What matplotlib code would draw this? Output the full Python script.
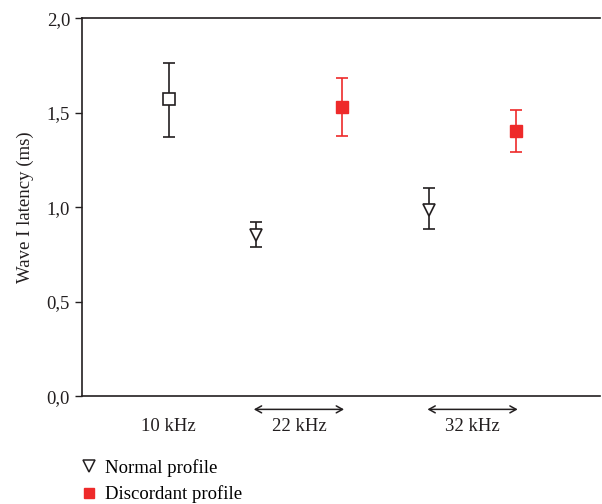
import matplotlib
matplotlib.use('Agg')
import matplotlib.pyplot as plt
from matplotlib.lines import Line2D

plt.rcParams['font.family'] = ['Liberation Serif', 'DejaVu Serif']

# normal profile (10, 22, 32 kHz)
normal_x = [1, 2, 4]
normal_mean = [1.57, 0.85, 0.985]
normal_low = [1.37, 0.79, 0.885]
normal_high = [1.765, 0.92, 1.10]
normal_markers = ['s', 'v', 'v']

# discordant profile (22, 32 kHz)
disc_x = [3, 5]
disc_mean = [1.53, 1.405]
disc_low = [1.378, 1.293]
disc_high = [1.685, 1.515]

freq_labels = ['10 kHz', '22 kHz', '32 kHz']
freq_pos = [1, 2.5, 4.5]
arrow_spans = [(2, 3), (4, 5)]

black = '#231f20'
red = '#ee2a2a'
fs = 13.5

fig = plt.figure(figsize=(6.02, 5.04), dpi=100)
ax = fig.add_axes([0.136, 0.214, 0.861, 0.75])

for x, m, lo, hi, mk in zip(normal_x, normal_mean, normal_low, normal_high, normal_markers):
    ax.errorbar([x], [m], yerr=[[m - lo], [hi - m]], fmt=mk, color=black,
                mfc='white', mec=black, ms=8 if mk == 's' else 9, mew=1.2,
                elinewidth=1.2, capsize=4, capthick=1.2, zorder=3)

for x, m, lo, hi in zip(disc_x, disc_mean, disc_low, disc_high):
    ax.errorbar([x], [m], yerr=[[m - lo], [hi - m]], fmt='s', color=red,
                mfc=red, mec=red, ms=8, elinewidth=1.2, capsize=4,
                capthick=1.2, zorder=3)

ax.set_xlim(0, 5.97)
ax.set_ylim(0, 2.0)
ax.set_yticks([0, 0.5, 1.0, 1.5, 2.0])
ax.set_yticklabels(['0,0', '0,5', '1,0', '1,5', '2,0'])
ax.set_xticks(freq_pos)
ax.set_xticklabels(freq_labels)
ax.tick_params(axis='x', length=0, pad=16, labelsize=fs, colors=black)
ax.tick_params(axis='y', direction='out', length=5, width=1, labelsize=fs, colors=black)
ax.spines['right'].set_visible(False)
for s in ['left', 'top', 'bottom']:
    ax.spines[s].set_color(black)
    ax.spines[s].set_linewidth(1.2)
ax.set_ylabel('Wave I latency (ms)', fontsize=fs, color=black, labelpad=9)

trans = ax.get_xaxis_transform()
for a, b in arrow_spans:
    ax.annotate('', xy=(b + 0.02, -0.035), xytext=(a - 0.02, -0.035), xycoords=trans,
                textcoords=trans, annotation_clip=False,
                arrowprops=dict(arrowstyle='<->,head_length=0.45,head_width=0.25',
                                color=black, lw=1.1, shrinkA=0, shrinkB=0))

handles = [
    Line2D([], [], ls='none', marker='v', ms=8, mfc='white', mec=black, mew=1.1),
    Line2D([], [], ls='none', marker='s', ms=7, mfc=red, mec=red),
]
fig.legend(handles, ['Normal profile', 'Discordant profile'], loc='upper left',
           bbox_to_anchor=(0.135, 0.089), frameon=False, fontsize=fs,
           handlelength=0.8, handletextpad=0.45, labelspacing=0.45,
           borderaxespad=0, borderpad=0)

fig.savefig('out.png', dpi=100)
